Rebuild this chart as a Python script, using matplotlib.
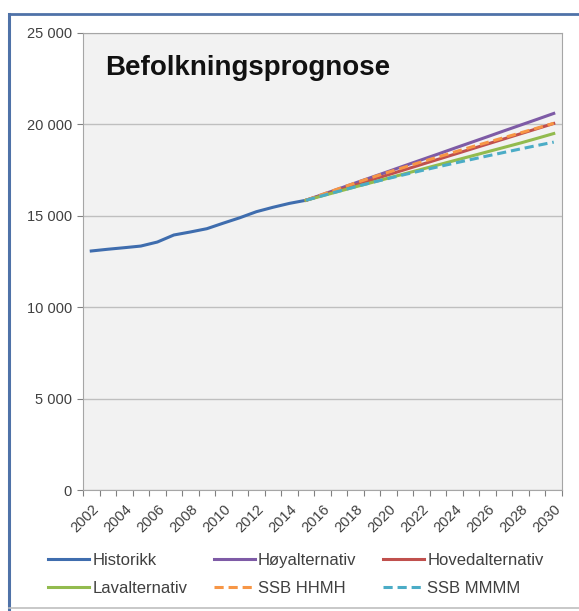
import matplotlib
matplotlib.use("Agg")
import matplotlib.pyplot as plt
from matplotlib.lines import Line2D

plt.rcParams['font.family'] = ['Liberation Sans', 'DejaVu Sans']

years = list(range(2002, 2031))
hist_years = list(range(2002, 2016))
historikk = [13075, 13170, 13255, 13345, 13565, 13950, 14115, 14295, 14600,
             14895, 15225, 15465, 15680, 15850]

fc_years = list(range(2015, 2031))
hoy = [15850, 16165, 16480, 16800, 17115, 17430, 17750, 18065, 18380, 18700,
       19015, 19330, 19650, 19965, 20280, 20600]
hoved = [15850, 16130, 16410, 16690, 16970, 17250, 17530, 17810, 18090, 18370,
         18650, 18930, 19210, 19490, 19770, 20050]
lav = [15850, 16095, 16340, 16585, 16825, 17065, 17305, 17545, 17785, 18025,
       18265, 18505, 18745, 18985, 19240, 19500]
ssb_hhmh = [15850, 16170, 16490, 16800, 17100, 17390, 17670, 17950, 18220,
            18490, 18760, 19020, 19280, 19540, 19800, 20060]
ssb_mmmm = [15850, 16102, 16349, 16591, 16823, 17045, 17262, 17474, 17681,
            17883, 18080, 18277, 18469, 18661, 18848, 19030]

yticks = [0, 5000, 10000, 15000, 20000, 25000]
ytick_labels = ["0", "5 000", "10 000", "15 000", "20 000", "25 000"]

W, H = 579, 611
fig = plt.figure(figsize=(W / 100, H / 100), dpi=100)
# outer frame: blue top/left, light grey bottom
fig.lines.append(Line2D([9 / W, 9 / W], [2 / H, 1 - 14 / H], transform=fig.transFigure,
                        color='#4F72A8', lw=2.2))
fig.lines.append(Line2D([9 / W, 1.0], [1 - 14 / H, 1 - 14 / H], transform=fig.transFigure,
                        color='#4F72A8', lw=2.0))
fig.lines.append(Line2D([9 / W, 1.0], [3 / H, 3 / H], transform=fig.transFigure,
                        color='#BFBFBF', lw=1.2))

ax = fig.add_axes([83 / W, 1 - 490 / H, (562 - 83) / W, (490 - 33) / H])
ax.set_facecolor('#F2F2F2')

def idx(ys):
    return [y - years[0] for y in ys]

ax.plot(idx(hist_years), historikk, color='#3F6DAE', lw=2.2, label='Historikk', zorder=3)
ax.plot(idx(fc_years), hoy, color='#7E5BA6', lw=2.2, label='Høyalternativ', zorder=3)
ax.plot(idx(fc_years), hoved, color='#C0504D', lw=2.2, label='Hovedalternativ', zorder=3)
ax.plot(idx(fc_years), lav, color='#92BB4E', lw=2.2, label='Lavalternativ', zorder=3)
ax.plot(idx(fc_years), ssb_hhmh, color='#F79646', lw=2.2, ls=(0, (3, 1.6)), label='SSB HHMH', zorder=4)
ax.plot(idx(fc_years), ssb_mmmm, color='#4BACC6', lw=2.2, ls=(0, (3, 1.6)), label='SSB MMMM', zorder=4)

ax.set_xlim(-0.5, len(years) - 0.5)
ax.set_ylim(0, 25000)
ax.set_yticks(yticks)
ax.set_yticklabels(ytick_labels, fontsize=10.5, color='#404040')
ax.yaxis.grid(True, color='#BFBFBF', lw=1)
ax.set_axisbelow(True)

ax.set_xticks([i - 0.5 for i in range(len(years) + 1)], minor=False)
ax.set_xticklabels([])
ax.set_xticks(range(0, len(years), 2), minor=True)
ax.set_xticklabels([str(y) for y in years[::2]], minor=True, rotation=45,
                   ha='right', rotation_mode='anchor', fontsize=10.5, color='#404040')
ax.tick_params(axis='x', which='major', length=4, color='#808080')
ax.tick_params(axis='x', which='minor', length=0, pad=9)
ax.tick_params(axis='y', length=4, color='#808080', pad=4)

for s in ['top', 'right', 'left', 'bottom']:
    ax.spines[s].set_color('#A6A6A6')

ax.text(0.046, 0.908, 'Befolkningsprognose', transform=ax.transAxes,
        fontsize=20, fontweight='bold', color='#111111', va='baseline', ha='left')

h, l = ax.get_legend_handles_labels()
order = [0, 3, 1, 4, 2, 5]
fig.legend([h[i] for i in order], [l[i] for i in order], ncol=3,
           loc='upper left', bbox_to_anchor=(48 / W, 1 - 553 / H), frameon=False,
           fontsize=12, handlelength=2.45, handletextpad=0.2, columnspacing=1.6,
           labelspacing=0.8, borderpad=0, borderaxespad=0, labelcolor='#404040')

fig.savefig('out.png', dpi=100)
